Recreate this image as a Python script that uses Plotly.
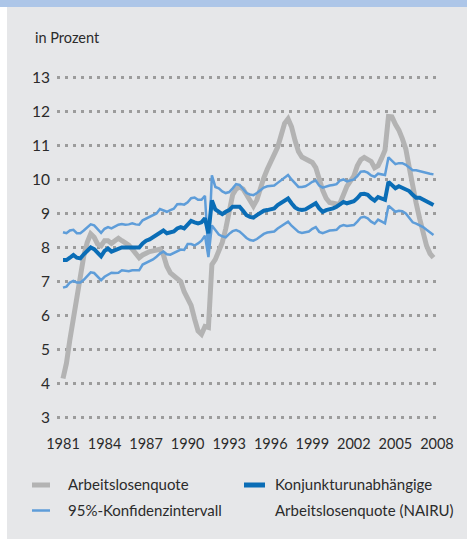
import plotly.graph_objects as go

# Quarterly data 1981Q1 .. 2007Q4
quarters = [1981 + i / 4 for i in range(108)]

arbeitslosenquote = [
    4.15, 4.6, 5.3, 5.95, 6.45, 7.2, 7.75, 8.15, 8.4, 8.3,
    8.1, 8.05, 8.2, 8.2, 8.12, 8.2, 8.27, 8.2, 8.15, 8.07,
    7.95, 7.8, 7.7, 7.78, 7.85, 7.88, 7.9, 7.93, 7.95, 7.78,
    7.45, 7.25, 7.15, 7.1, 7.0, 6.7, 6.5, 6.3, 5.9, 5.55,
    5.45, 5.68, 5.65, 7.5, 7.65, 7.9, 8.15, 8.55, 9.1, 9.55,
    9.72, 9.78, 9.72, 9.55, 9.35, 9.22, 9.4, 9.75, 10.05, 10.3,
    10.52, 10.72, 10.95, 11.3, 11.65, 11.78, 11.55, 11.15, 10.82, 10.66,
    10.6, 10.56, 10.5, 10.35, 9.98, 9.68, 9.45, 9.32, 9.3, 9.28,
    9.3, 9.55, 9.8, 9.95, 10.1, 10.4, 10.58, 10.65, 10.6, 10.53,
    10.34, 10.4, 10.62, 10.86, 11.85, 11.84, 11.62, 11.45, 11.2, 10.9,
    10.35, 9.75, 9.3, 8.85, 8.45, 8.05, 7.82, 7.7,
]

nairu = [
    7.63, 7.63, 7.7, 7.78, 7.7, 7.68, 7.8, 7.9, 8.0, 7.95,
    7.85, 7.74, 7.9, 7.97, 7.88, 7.93, 7.97, 8.0, 8.0, 8.0,
    7.99, 8.0, 8.0, 8.12, 8.2, 8.24, 8.3, 8.37, 8.45, 8.5,
    8.42, 8.44, 8.47, 8.56, 8.6, 8.56, 8.66, 8.78, 8.74, 8.71,
    8.74, 8.86, 8.42, 9.38, 9.12, 9.05, 8.98, 9.05, 9.1, 9.2,
    9.2, 9.2, 9.08, 8.95, 8.9, 8.88, 8.95, 9.02, 9.08, 9.1,
    9.12, 9.15, 9.25, 9.32, 9.38, 9.44, 9.3, 9.18, 9.12, 9.1,
    9.12, 9.18, 9.25, 9.3, 9.15, 9.05, 9.1, 9.12, 9.15, 9.2,
    9.28, 9.34, 9.3, 9.32, 9.36, 9.45, 9.57, 9.58, 9.55, 9.45,
    9.38, 9.48, 9.45, 9.4, 9.93, 9.85, 9.74, 9.8, 9.75, 9.72,
    9.66, 9.55, 9.46, 9.46, 9.4, 9.34, 9.28, 9.25,
]

ki_oben = [
    8.45, 8.42, 8.5, 8.52, 8.42, 8.42, 8.5, 8.58, 8.68, 8.65,
    8.53, 8.43, 8.55, 8.6, 8.56, 8.62, 8.67, 8.69, 8.67, 8.68,
    8.71, 8.68, 8.67, 8.8, 8.85, 8.9, 8.95, 9.0, 9.13, 9.08,
    9.05, 9.1, 9.14, 9.27, 9.28, 9.26, 9.33, 9.45, 9.47, 9.4,
    9.4, 9.52, 7.78, 10.12, 9.78, 9.74, 9.65, 9.6, 9.63, 9.74,
    9.86, 9.84, 9.72, 9.6, 9.56, 9.54, 9.6, 9.69, 9.76, 9.8,
    9.8, 9.82, 9.9, 9.98, 10.06, 10.13, 10.0, 9.88, 9.78, 9.78,
    9.8, 9.86, 9.93, 9.97, 9.82, 9.76, 9.8, 9.82, 9.84, 9.86,
    9.97, 10.0, 9.94, 9.97, 10.0, 10.1, 10.23, 10.24, 10.2, 10.12,
    10.08, 10.17, 10.15, 10.13, 10.65, 10.55, 10.45, 10.48, 10.48, 10.43,
    10.35, 10.27, 10.27, 10.24, 10.21, 10.19, 10.17, 10.15,
]

ki_unten = [
    6.82, 6.85, 6.97, 7.02, 6.97, 6.97, 7.05, 7.15, 7.27, 7.25,
    7.13, 7.04, 7.14, 7.2, 7.26, 7.25, 7.26, 7.33, 7.32, 7.3,
    7.33, 7.34, 7.33, 7.5, 7.55, 7.58, 7.65, 7.73, 7.82, 7.88,
    7.8, 7.79, 7.84, 7.9, 7.94, 7.93, 8.1, 8.1, 8.06, 8.12,
    8.2, 8.35, 7.72, 8.65, 8.5, 8.38, 8.33, 8.3, 8.4, 8.48,
    8.51, 8.47, 8.38, 8.28, 8.22, 8.2, 8.25, 8.33, 8.4, 8.44,
    8.45, 8.47, 8.56, 8.63, 8.7, 8.76, 8.64, 8.55, 8.46, 8.43,
    8.45, 8.47, 8.55, 8.6, 8.46, 8.42, 8.46, 8.5, 8.51, 8.52,
    8.62, 8.66, 8.63, 8.65, 8.66, 8.76, 8.88, 8.9, 8.86, 8.76,
    8.7, 8.82, 8.76, 8.71, 9.23, 9.15, 9.05, 9.08, 9.07, 9.0,
    8.88, 8.74, 8.7, 8.66, 8.6, 8.52, 8.45, 8.37,
]

x_ticks = [1981, 1984, 1987, 1990, 1993, 1996, 1999, 2002, 2005, 2008]
y_ticks = [3, 4, 5, 6, 7, 8, 9, 10, 11, 12, 13]

legend_labels = ["Arbeitslosenquote", "95%-Konfidenzintervall",
                 "Konjunkturunabhängige", "Arbeitslosenquote (NAIRU)"]

# ---- styling ----
W, H = 467, 539
L, R, T, B = 57, 27, 74, 118
PW, PH = W - L - R, H - T - B
BG = "#e6e7e9"
GRAY = "#b3b3b3"
DARK = "#0a6db6"
LIGHT = "#5e9dd9"
TXT = "#2b2b2b"
FONT = "Lato"


def fx(px):
    return (px - L) / PW


def fy(py):
    return 1 - (py - T) / PH


fig = go.Figure()
fig.add_trace(go.Scatter(x=quarters, y=arbeitslosenquote, mode="lines",
                         line=dict(color=GRAY, width=5), showlegend=False))
fig.add_trace(go.Scatter(x=quarters, y=ki_oben, mode="lines",
                         line=dict(color=LIGHT, width=2.5), showlegend=False))
fig.add_trace(go.Scatter(x=quarters, y=ki_unten, mode="lines",
                         line=dict(color=LIGHT, width=2.5), showlegend=False))
fig.add_trace(go.Scatter(x=quarters, y=nairu, mode="lines",
                         line=dict(color=DARK, width=4), showlegend=False))

shapes = [
    # white strip at left
    dict(type="rect", xref="paper", yref="paper", x0=fx(-5), x1=fx(7),
         y0=fy(H + 5), y1=fy(7), fillcolor="white", line_width=0, layer="above"),
    # top blue band
    dict(type="rect", xref="paper", yref="paper", x0=fx(-5), x1=fx(W + 5),
         y0=fy(7), y1=fy(-5), fillcolor="#adc6e8", line_width=0, layer="above"),
    # legend swatches
    dict(type="line", xref="paper", yref="paper", x0=fx(32), x1=fx(50),
         y0=fy(485), y1=fy(485), line=dict(color=GRAY, width=5)),
    dict(type="line", xref="paper", yref="paper", x0=fx(32), x1=fx(50),
         y0=fy(510.5), y1=fy(510.5), line=dict(color=LIGHT, width=2.5)),
    dict(type="line", xref="paper", yref="paper", x0=fx(244), x1=fx(265),
         y0=fy(485), y1=fy(485), line=dict(color=DARK, width=5)),
]

LF = 15
annotations = [
    dict(text="in Prozent", xref="paper", yref="paper", x=fx(33), y=fy(38),
         xanchor="left", yanchor="middle", showarrow=False,
         font=dict(family=FONT, size=14.5, color=TXT)),
    dict(text=legend_labels[0], xref="paper", yref="paper", x=fx(66), y=fy(484),
         xanchor="left", yanchor="middle", showarrow=False,
         font=dict(family=FONT, size=LF, color=TXT)),
    dict(text=legend_labels[1], xref="paper", yref="paper", x=fx(66), y=fy(509.5),
         xanchor="left", yanchor="middle", showarrow=False,
         font=dict(family=FONT, size=LF, color=TXT)),
    dict(text=legend_labels[2], xref="paper", yref="paper", x=fx(273), y=fy(484),
         xanchor="left", yanchor="middle", showarrow=False,
         font=dict(family=FONT, size=LF, color=TXT)),
    dict(text=legend_labels[3], xref="paper", yref="paper", x=fx(273), y=fy(509.5),
         xanchor="left", yanchor="middle", showarrow=False,
         font=dict(family=FONT, size=LF, color=TXT)),
]

x0 = 1981 - (63 - L) / 13.85
x1 = x0 + PW / 13.85

fig.update_layout(
    width=W, height=H,
    margin=dict(l=L, r=R, t=T, b=B, pad=0),
    paper_bgcolor=BG, plot_bgcolor=BG,
    font=dict(family=FONT, size=15, color=TXT),
    shapes=shapes, annotations=annotations,
    xaxis=dict(range=[x0, x1], tickvals=x_ticks, ticktext=[str(v) for v in x_ticks],
               showgrid=False, zeroline=False, showline=False, ticks="",
               ticklabelstandoff=12, tickfont=dict(family=FONT, size=14.5, color=TXT)),
    yaxis=dict(range=[2.9, 13.1], tickvals=y_ticks, showgrid=True,
               gridcolor="#9c9c9c", gridwidth=2.5, griddash="2.5px,5.5px",
               zeroline=False, showline=False, ticks="",
               ticklabelstandoff=6, tickfont=dict(family=FONT, size=15.5, color=TXT)),
)

fig.write_html(
    "out.html",
    config={"displayModeBar": False},
    post_script="document.body.style.margin='0';document.body.style.overflow='hidden';",
)
